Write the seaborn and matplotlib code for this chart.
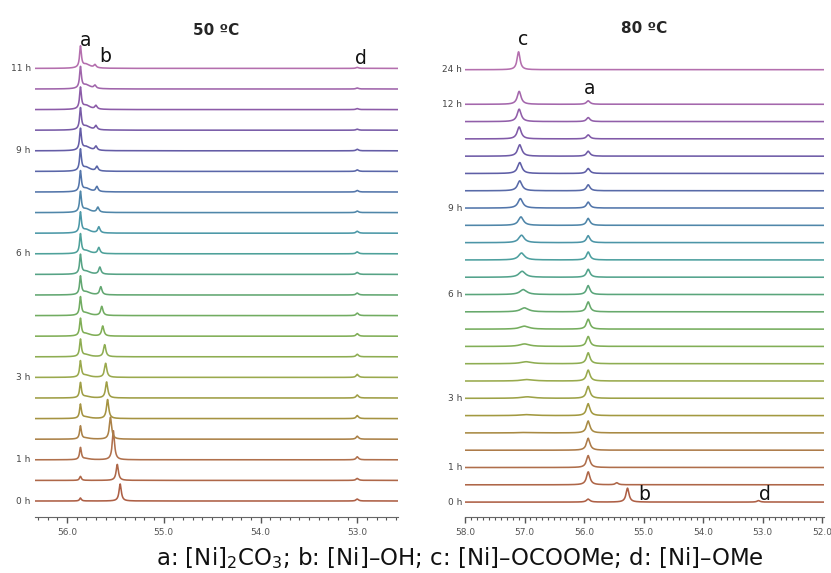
import numpy as np
import pandas as pd
import matplotlib
matplotlib.use('Agg')
import matplotlib.pyplot as plt
import matplotlib.transforms as mtransforms
from matplotlib.ticker import MultipleLocator
import seaborn as sns

# ---------------- data ----------------
# 50 C panel, 22 spectra from bottom (0 h) to top (11 h)
left_time_idx = [0, 2, 6, 12, 17, 21]
left_time_txt = ['0 h', '1 h', '3 h', '6 h', '9 h', '11 h']
left_a_pos = 55.86
left_a_h = [3, 4, 12, 13, 14, 15, 16, 17, 17, 18, 18, 19, 19, 20, 20, 20, 21, 21, 21, 21, 21, 21]
left_a_sh = [0, 0, 1, 1, 1.5, 1.5, 2, 2, 2.5, 2.5, 3, 3, 3, 3.5, 3.5, 3.5, 4, 4, 4, 4, 4, 4]
left_b_pos = [55.45, 55.48, 55.52, 55.55, 55.58, 55.59, 55.60, 55.61, 55.63, 55.64, 55.65,
              55.66, 55.67, 55.67, 55.68, 55.69, 55.69, 55.70, 55.70, 55.70, 55.71, 55.71]
left_b_h = [17, 16, 29, 22, 19, 16, 14, 12, 10, 9, 8, 7, 6, 6, 5, 5, 4.5, 4, 4, 3.5, 3, 3]
left_d_pos = 53.0
left_d_h = [2, 2, 3, 3, 3, 3, 3, 2.5, 2.5, 2.5, 2, 2, 2, 2, 1.5, 1.5, 1.5, 1.5, 1, 1, 1, 1]

# 80 C panel, 24 spectra (0 h .. 12 h) plus the 24 h one
right_slots = list(range(24)) + [25]
right_time_idx = [0, 2, 6, 12, 17, 23, 24]
right_time_txt = ['0 h', '1 h', '3 h', '6 h', '9 h', '12 h', '24 h']
right_a_pos = 55.93
right_a_h = [3, 13, 12, 12, 12, 12, 12, 11, 11, 10, 10, 10, 9, 8, 8, 7, 7, 6, 6, 5, 5, 4, 4, 3.5, 0]
right_c_pos = [57.0, 57.0, 57.0, 57.0, 56.95, 56.95, 56.95, 56.95, 56.97, 57.0, 57.0, 57.0, 57.02,
               57.04, 57.05, 57.05, 57.06, 57.07, 57.08, 57.08, 57.08, 57.09, 57.09, 57.09, 57.1]
right_c_h = [0, 0, 0, 0, 0.5, 1, 1.5, 1.5, 2, 2.5, 3, 4, 5, 6, 7, 7.5, 8.5, 9.5, 10, 11, 11.5, 12, 12.5, 13, 18]
right_c_w = [0.1, 0.1, 0.1, 0.1, 0.14, 0.14, 0.13, 0.12, 0.11, 0.1, 0.09, 0.08, 0.07,
             0.065, 0.06, 0.055, 0.05, 0.048, 0.045, 0.043, 0.042, 0.04, 0.04, 0.038, 0.03]
right_b_pos = [55.27, 55.45] + [55.45] * 23
right_b_h = [14, 2] + [0] * 23
right_d_pos = 53.07
right_d_h = [1.5] + [0] * 24

peak_colors = ['#ad5f45', '#b0714c', '#a3973f', '#98ac4f', '#7aae58', '#5aa57a',
               '#4a9fa6', '#5179ab', '#5f5ca6', '#8a5aa8', '#b46fae']


def lor(x, x0, h, w):
    return h * w ** 2 / ((x - x0) ** 2 + w ** 2)


# ---------------- build spectra ----------------
sp_left = 20.6
xl = np.linspace(52.5, 56.4, 5000)
rows = []
for i in range(len(left_a_h)):
    y = (lor(xl, left_a_pos, left_a_h[i], 0.011)
         + lor(xl, left_a_pos - 0.06, left_a_sh[i], 0.05)
         + lor(xl, left_b_pos[i], left_b_h[i], 0.014)
         + lor(xl, left_d_pos, left_d_h[i], 0.015))
    rows.append(pd.DataFrame({'ppm': xl, 'y': y + i * sp_left, 'trace': i}))
df_l = pd.concat(rows)

sp_right = 17.4
xr = np.linspace(51.9, 58.1, 5000)
rows = []
for i in range(len(right_a_h)):
    y = (lor(xr, right_a_pos, right_a_h[i], 0.035)
         + lor(xr, right_c_pos[i], right_c_h[i], right_c_w[i])
         + lor(xr, right_b_pos[i], right_b_h[i], 0.03)
         + lor(xr, right_d_pos, right_d_h[i], 0.03))
    rows.append(pd.DataFrame({'ppm': xr, 'y': y + right_slots[i] * sp_right, 'trace': i}))
df_r = pd.concat(rows)

# ---------------- plot ----------------
sns.set_style('white')
fig = plt.figure(figsize=(8.31, 5.73), dpi=100)
ax1 = fig.add_axes([35 / 831, 1 - 517 / 573, 363 / 831, 497 / 573])
ax2 = fig.add_axes([465 / 831, 1 - 517 / 573, 359 / 831, 497 / 573])

pal_l = sns.blend_palette(peak_colors, len(left_a_h))
pal_r = sns.blend_palette(peak_colors, len(right_a_h))
sns.lineplot(data=df_l, x='ppm', y='y', hue='trace', palette=pal_l, ax=ax1,
             legend=False, estimator=None, sort=False, linewidth=1.15)
sns.lineplot(data=df_r, x='ppm', y='y', hue='trace', palette=pal_r, ax=ax2,
             legend=False, estimator=None, sort=False, linewidth=1.15)

ax1.set_xlim(56.33, 52.58)
ax1.set_ylim(-16, 481)
ax2.set_xlim(58.0, 51.97)
ax2.set_ylim(-15, 485)

for ax in (ax1, ax2):
    sns.despine(ax=ax, left=True)
    ax.spines['bottom'].set_color('#666666')
    ax.set_xlabel('')
    ax.set_ylabel('')
    ax.set_yticks([])
    ax.xaxis.set_major_locator(MultipleLocator(1.0))
    ax.xaxis.set_minor_locator(MultipleLocator(0.1))
    ax.tick_params(axis='x', which='major', length=4, width=1, color='#555555',
                   labelsize=6.5, labelcolor='#555555', pad=4, bottom=True)
    ax.tick_params(axis='x', which='minor', length=2.5, width=0.8, color='#555555', bottom=True)
    ax.xaxis.set_major_formatter(matplotlib.ticker.FormatStrFormatter('%.1f'))

# time labels
tr1 = mtransforms.blended_transform_factory(ax1.transAxes, ax1.transData)
for k, t in zip(left_time_idx, left_time_txt):
    ax1.text(-0.012, k * sp_left, t, transform=tr1, ha='right', va='center',
             fontsize=6.5, color='#444444')
tr2 = mtransforms.blended_transform_factory(ax2.transAxes, ax2.transData)
for k, t in zip(right_time_idx, right_time_txt):
    ax2.text(-0.008, right_slots[k] * sp_right, t, transform=tr2, ha='right', va='center',
             fontsize=6.5, color='#444444')

# titles and peak letters
ax1.set_title('50 ºC', fontsize=11, fontweight='bold', pad=0, y=0.97)
ax2.set_title('80 ºC', fontsize=11, fontweight='bold', pad=0, y=0.974)
lab = dict(fontsize=13.5, ha='center', va='center', color='#111111')
ax1.text(55.81, 460, 'a', **lab)
ax1.text(55.61, 445, 'b', **lab)
ax1.text(52.96, 443, 'd', **lab)
ax2.text(57.02, 465, 'c', **lab)
ax2.text(55.90, 416, 'a', **lab)
ax2.text(54.99, 8, 'b', **lab)
ax2.text(52.96, 8, 'd', **lab)

fig.text(460 / 831, 1 - 558 / 573,
         r'a: [Ni]$_2$CO$_3$; b: [Ni]–OH; c: [Ni]–OCOOMe; d: [Ni]–OMe',
         ha='center', va='center', fontsize=16.5, color='#111111')

fig.savefig('out.png', dpi=100)
